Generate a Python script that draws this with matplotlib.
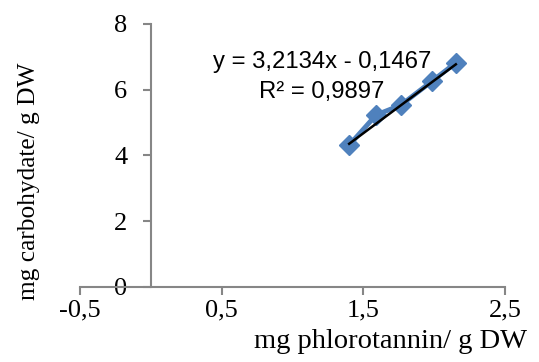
import matplotlib
matplotlib.use("Agg")
import matplotlib.pyplot as plt
import numpy as np

# Data
phlorotannin = [1.40, 1.59, 1.765, 1.988, 2.153]
carbohydrate = [4.31, 5.23, 5.53, 6.27, 6.82]
slope = 3.2134
intercept = -0.1467
r2 = 0.9897
x_ticks = [-0.5, 0.5, 1.5, 2.5]
x_ticklabels = ["-0,5", "0,5", "1,5", "2,5"]
y_ticks = [0, 2, 4, 6, 8]
y_ticklabels = ["0", "2", "4", "6", "8"]

serif = "Liberation Serif"
sans = "Liberation Sans"
gray = "#868686"
blue = "#4F81BD"

fig = plt.figure(figsize=(5.39, 3.62), dpi=100)
ax = fig.add_axes([80/539, 1-286.7/362, (505-80)/539, (286.7-24)/362])
ax.set_xlim(-0.5, 2.5)
ax.set_ylim(0, 8)

ax.plot(phlorotannin, carbohydrate, color=blue, lw=3.5, marker="D",
        markersize=10.5, markerfacecolor=blue, markeredgecolor=blue, zorder=3)
xt = np.array([min(phlorotannin), max(phlorotannin)])
ax.plot(xt, slope*xt + intercept, color="black", lw=1.8, zorder=4)

for s in ["top", "right"]:
    ax.spines[s].set_visible(False)
ax.spines["left"].set_position(("data", 0))
for s in ["left", "bottom"]:
    ax.spines[s].set_color(gray)
    ax.spines[s].set_linewidth(1.5)

ax.set_xticks(x_ticks)
ax.set_xticklabels(x_ticklabels, fontfamily=serif, fontsize=19)
ax.set_yticks(y_ticks)
ax.set_yticklabels(y_ticklabels, fontfamily=serif, fontsize=19)
ax.tick_params(axis="x", direction="out", length=6, width=1.5, color=gray, pad=3)
ax.tick_params(axis="y", direction="out", length=6, width=1.5, color=gray, pad=11)

fig.text(527/539, 1-348/362, "mg phlorotannin/ g DW", ha="right", va="baseline",
         fontfamily=serif, fontsize=20.5)
fig.text(29/539, 1-181/362, "mg carbohydate/ g DW", ha="center", va="center",
         rotation=90, fontfamily=serif, fontsize=18.3)

eq = "y = 3,2134x - 0,1467"
r2txt = "R² = 0,9897"
fig.text(322/539, 1-62/362, eq, ha="center", va="center", fontfamily=sans, fontsize=17.2)
fig.text(322/539, 1-92/362, r2txt, ha="center", va="center", fontfamily=sans, fontsize=17.2)

fig.savefig("out.png", dpi=100)
